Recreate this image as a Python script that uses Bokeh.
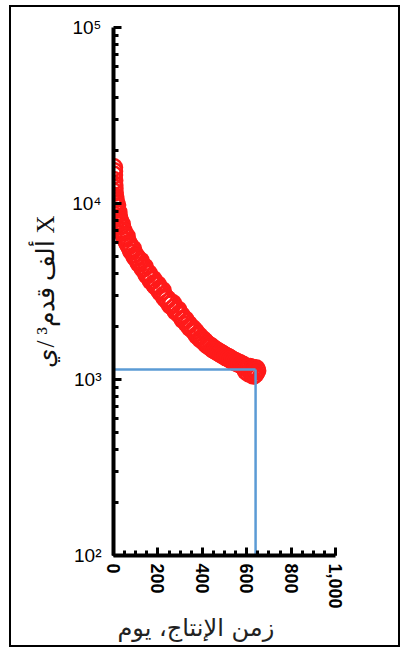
from bokeh.plotting import figure
from bokeh.models import Range1d, FixedTicker, NumeralTickFormatter, Title
from bokeh.embed import file_html
from bokeh.resources import INLINE

# Data (production time in days, rate in thousand ft3/day)
days = [0, 0, 0, 1, 1, 2, 3, 4, 5, 6, 8, 10, 12, 14, 16, 18, 20, 23, 26, 29,
        32, 35, 38, 41, 45, 49, 53, 57, 61, 66, 71, 76, 81, 86, 91, 97, 103, 109,
        115, 121, 127, 133, 139, 145, 151, 157, 163, 170, 177, 184, 191, 198,
        205, 212, 219, 226, 234, 242, 250, 258, 266, 274, 282, 290, 298, 306,
        314, 322, 330, 338, 346, 354, 362, 370, 378, 386, 394, 402, 410, 418,
        426, 434, 442, 450, 458, 466, 474, 482, 490, 498, 506, 514, 522, 530,
        538, 546, 554, 562, 570, 578, 585, 592, 598, 604, 610, 615, 620, 625,
        630, 634, 638, 642, 645]
rates = [16000, 15200, 14500, 13500, 12800, 12200, 11600, 11000, 10600, 10800,
         10200, 9900, 9500, 9800, 9000, 8700, 8900, 8300, 8000, 7800,
         7500, 7600, 7200, 7000, 6900, 6600, 6400, 6500, 6100, 5900,
         5800, 5600, 5400, 5500, 5200, 5000, 4950, 4800, 4600, 4700,
         4450, 4300, 4350, 4100, 3950, 4000, 3800, 3650, 3700, 3500,
         3400, 3450, 3250, 3150, 3200, 3000, 2900, 2850, 2750, 2650,
         2700, 2550, 2450, 2480, 2350, 2300, 2200, 2180, 2100, 2050,
         1980, 1950, 1900, 1850, 1780, 1760, 1700, 1680, 1640, 1600,
         1570, 1550, 1520, 1490, 1470, 1450, 1430, 1410, 1390, 1370,
         1350, 1340, 1320, 1300, 1280, 1270, 1250, 1240, 1230, 1210,
         1200, 1180, 1120, 1160, 1090, 1170, 1100, 1140, 1060, 1120,
         1080, 1150, 1120]

ref_day = 640
ref_rate = 1140

x_ticks = [0, 200, 400, 600, 800, 1000]
y_ticks = [100, 1000, 10000, 100000]
y_tick_labels = {100: "10²", 1000: "10³", 10000: "10⁴", 100000: "10⁵"}

x_label = "زمن الإنتاج، يوم"
y_label = "ألف قدم³ /ي X"

p = figure(width=391, height=642, output_backend="svg", toolbar_location=None,
           y_axis_type="log", x_range=Range1d(0, 1000), y_range=Range1d(100, 100000),
           min_border_left=102, min_border_right=67, min_border_top=20, min_border_bottom=94)
p.styles = {"border": "2px solid black", "box-sizing": "border-box",
            "margin-left": "9px", "margin-top": "5px"}
p.outline_line_color = None
p.xgrid.visible = False
p.ygrid.visible = False

p.scatter(days, rates, size=17, marker="circle", fill_color=None,
          line_color="#ff1a1a", line_width=2.5)

p.line([0, ref_day], [ref_rate, ref_rate], line_color="#5b9bd5", line_width=2.5)
p.line([ref_day, ref_day], [100, ref_rate], line_color="#5b9bd5", line_width=2.5)

for ax in (p.xaxis[0], p.yaxis[0]):
    ax.axis_line_width = 4
    ax.axis_line_color = "black"
    ax.major_tick_line_width = 3
    ax.minor_tick_line_width = 3
    ax.major_tick_in = 8
    ax.major_tick_out = 0
    ax.minor_tick_in = 5
    ax.minor_tick_out = 0
    ax.major_tick_line_color = "black"
    ax.minor_tick_line_color = "black"
    ax.major_label_text_color = "black"

p.xaxis.ticker = FixedTicker(ticks=x_ticks, minor_ticks=list(range(0, 1001, 50)))
p.xaxis.formatter = NumeralTickFormatter(format="0,0")
p.xaxis.major_label_orientation = "vertical"
p.xaxis.major_label_text_font = "Liberation Sans"
p.xaxis.major_label_text_font_style = "bold"
p.xaxis.major_label_text_font_size = "18px"
p.xaxis.major_label_standoff = 8

# x-axis title, under the axis and slightly left of centre as in the reference
p.add_layout(Title(text=x_label, align="left", offset=4, text_font="DejaVu Sans",
                   text_font_size="24px", text_font_style="normal",
                   text_color="#222222", standoff=0), "below")

p.yaxis.ticker = FixedTicker(ticks=y_ticks,
                             minor_ticks=[m * 10 ** e for e in (2, 3, 4) for m in range(2, 10)])
p.yaxis.major_label_overrides = y_tick_labels
p.yaxis.major_label_text_font = "Liberation Sans"
p.yaxis.major_label_text_font_size = "19px"
p.yaxis.major_label_standoff = 12
p.yaxis.axis_label = y_label
p.yaxis.axis_label_text_font = "Liberation Serif"
p.yaxis.axis_label_text_font_style = "normal"
p.yaxis.axis_label_text_font_size = "25px"
p.yaxis.axis_label_text_color = "#111111"
p.yaxis.axis_label_standoff = 10

open("out.html", "w").write(file_html(p, INLINE))
